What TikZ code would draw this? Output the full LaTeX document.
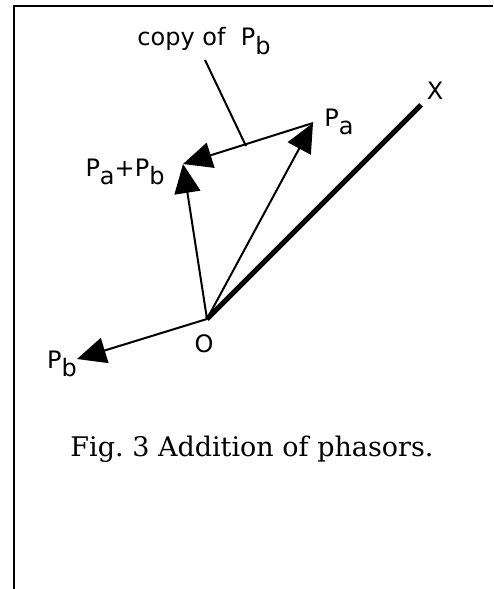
\documentclass[tikz,border=0pt]{standalone}
\usepackage{fontspec}
\setmainfont{DejaVu Serif}
\setsansfont{DejaVu Sans}
\usetikzlibrary{arrows.meta}
\newcommand{\sub}[2]{#1\raisebox{-0.35em}{#2}}
\begin{document}
\frenchspacing
\begin{tikzpicture}[x=1pt,y=-1pt,
  vec/.style={line width=2pt,-{Triangle[length=29pt,width=26pt]}},
  lbl/.style={font=\sffamily\fontsize{24}{28}\selectfont,inner sep=0pt},
  thin/.style={line width=2pt}]
\useasboundingbox (0,0) rectangle (493,589);
\draw[line width=2pt] (14,589) -- (14,6) -- (493,6);
\coordinate (O) at (207,319);
\coordinate (X) at (421,105);
\coordinate (Pa) at (313,123);
\coordinate (S) at (183,164);
\coordinate (Pb) at (77,359);
\coordinate (L1) at (205,60);
\coordinate (L2) at (246,146);
\draw[line width=5pt] (O) -- (X);
\draw[vec] (O) -- (Pa);
\draw[vec] (O) -- (S);
\draw[vec] (Pa) -- (S);
\draw[vec] (O) -- (Pb);
\draw[thin] (L1) -- (L2);
\node[lbl] (tcopy) at (204,41) {copy of \ \sub{P}{b}};
\node[lbl] (tX) at (435,91) {X};
\node[lbl] (tPa) at (339,122) {\sub{P}{a}};
\node[lbl] (tS) at (125,172) {\sub{P}{a}+\sub{P}{b}};
\node[lbl] (tO) at (204,344) {O};
\node[lbl] (tPb) at (62,364) {\sub{P}{b}};
\node[inner sep=0pt,font=\fontsize{27}{32}\selectfont] (cap) at (252,449) {Fig. 3 Addition of phasors.};
\end{tikzpicture}
\end{document}
